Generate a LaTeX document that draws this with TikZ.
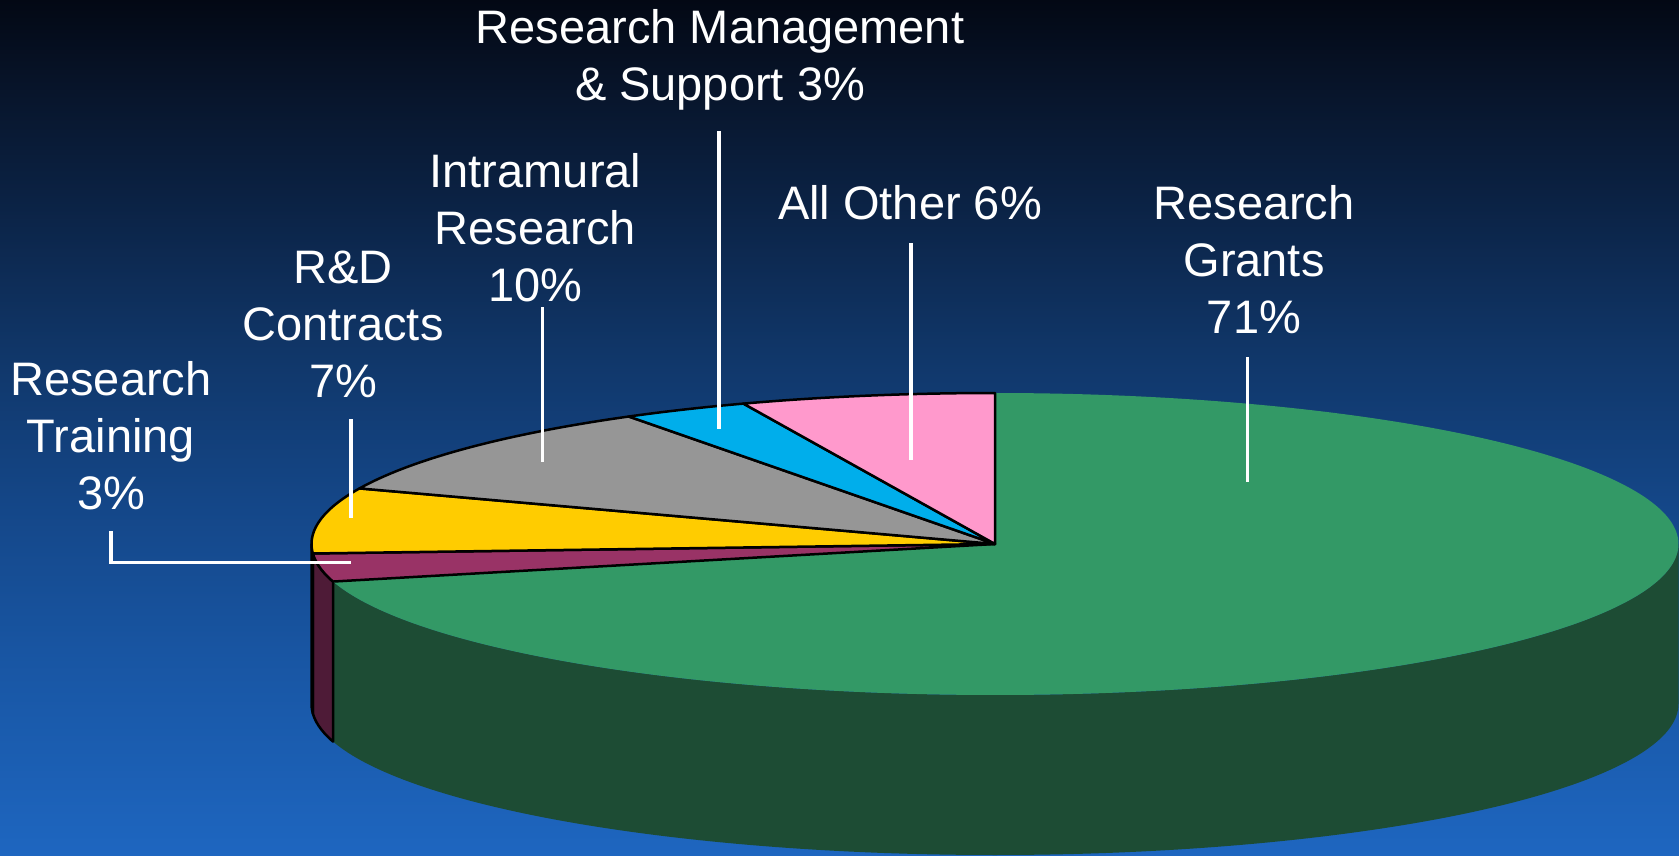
\documentclass[tikz,border=0pt]{standalone}
\usepackage{fontspec}
\setmainfont{Liberation Sans}
\definecolor{bgA}{RGB}{3,8,20}
\definecolor{bgB}{RGB}{8,22,45}
\definecolor{bgC}{RGB}{11,34,68}
\definecolor{bgD}{RGB}{16,54,104}
\definecolor{bgE}{RGB}{20,70,135}
\definecolor{bgF}{RGB}{24,85,162}
\definecolor{bgG}{RGB}{30,102,192}
\definecolor{gtop}{RGB}{51,153,102}
\definecolor{gside}{RGB}{29,76,52}
\definecolor{mtop}{RGB}{153,51,102}
\definecolor{mside}{RGB}{78,27,55}
\definecolor{ytop}{RGB}{255,204,0}
\definecolor{yside}{RGB}{128,102,0}
\definecolor{gytop}{RGB}{150,150,150}
\definecolor{btop}{RGB}{0,174,235}
\definecolor{ptop}{RGB}{255,153,204}
\pgfdeclareverticalshading{bgshade}{100bp}{color(0bp)=(bgG); color(25bp)=(bgG); color(37.03bp)=(bgF); color(45.79bp)=(bgE); color(54.56bp)=(bgD); color(63.32bp)=(bgC); color(69.16bp)=(bgB); color(75bp)=(bgA); color(100bp)=(bgA)}
\begin{document}
\begin{tikzpicture}[x=1pt,y=-1pt,
  lbl/.style={font=\fontsize{47}{57}\selectfont, text=white, align=center, inner sep=0pt, anchor=north},
  lead/.style={draw=white, line width=3.5pt},
  slice/.style={draw=black, line width=2.5pt, line join=round}]
\useasboundingbox (0,0) rectangle (1679,856);
\shade[shading=bgshade] (0,0) rectangle (1679,856);
\def\pcx{995}\def\pcy{544}\def\prx{683.5}\def\pry{151}\def\pdep{160}
\coordinate (pc) at (\pcx,\pcy);
% sides
\fill[gside] plot[domain=0:165.6,samples=150] ({\pcx+\prx*cos(\x)},{\pcy+\pry*sin(\x)}) -- plot[domain=165.6:0,samples=150] ({\pcx+\prx*cos(\x)},{\pcy+\pdep+\pry*sin(\x)}) -- cycle;
\filldraw[slice, fill=mside] plot[domain=165.6:176.4,samples=20] ({\pcx+\prx*cos(\x)},{\pcy+\pry*sin(\x)}) -- plot[domain=176.4:165.6,samples=20] ({\pcx+\prx*cos(\x)},{\pcy+\pdep+\pry*sin(\x)}) -- cycle;
\filldraw[slice, fill=yside] plot[domain=176.4:180,samples=8] ({\pcx+\prx*cos(\x)},{\pcy+\pry*sin(\x)}) -- plot[domain=180:176.4,samples=8] ({\pcx+\prx*cos(\x)},{\pcy+\pdep+\pry*sin(\x)}) -- cycle;
% tops
\fill[gtop] (pc) -- plot[domain=-90:165.6,samples=250] ({\pcx+\prx*cos(\x)},{\pcy+\pry*sin(\x)}) -- cycle;
\filldraw[slice, fill=mtop] (pc) -- plot[domain=165.6:176.4,samples=20] ({\pcx+\prx*cos(\x)},{\pcy+\pry*sin(\x)}) -- cycle;
\filldraw[slice, fill=ytop] (pc) -- plot[domain=176.4:201.6,samples=40] ({\pcx+\prx*cos(\x)},{\pcy+\pry*sin(\x)}) -- cycle;
\filldraw[slice, fill=gytop] (pc) -- plot[domain=201.6:237.6,samples=50] ({\pcx+\prx*cos(\x)},{\pcy+\pry*sin(\x)}) -- cycle;
\filldraw[slice, fill=btop] (pc) -- plot[domain=237.6:248.4,samples=20] ({\pcx+\prx*cos(\x)},{\pcy+\pry*sin(\x)}) -- cycle;
\filldraw[slice, fill=ptop] (pc) -- plot[domain=248.4:270,samples=30] ({\pcx+\prx*cos(\x)},{\pcy+\pry*sin(\x)}) -- cycle;
% labels
\node[lbl] (lmgmt) at (720,3.1) {\strut Research Management\\\& Support 3\%};
\node[lbl] (lintra) at (535.5,147) {\strut Intramural\\Research\\10\%};
\node[lbl] (lrd) at (343,243) {\strut R\&D\\Contracts\\7\%};
\node[lbl] (ltrain) at (111,355) {\strut Research\\Training\\3\%};
\node[lbl] (lother) at (910,179) {\strut All Other 6\%};
\node[lbl] (lgrants) at (1254,179) {\strut Research\\Grants\\71\%};
% leader lines
\coordinate (mT) at (719,131); \coordinate (mB) at (719,429);
\coordinate (oT) at (911,243); \coordinate (oB) at (911,460);
\coordinate (gT) at (1247.5,357); \coordinate (gB) at (1247.5,482);
\coordinate (iT) at (542.5,307); \coordinate (iB) at (542.5,462);
\coordinate (rT) at (351,419); \coordinate (rB) at (351,518);
\coordinate (tT) at (111,531); \coordinate (tC) at (111,562.5); \coordinate (tE) at (351,562.5);
\draw[lead] (mT) -- (mB);
\draw[lead] (oT) -- (oB);
\draw[lead] (gT) -- (gB);
\draw[lead] (iT) -- (iB);
\draw[lead] (rT) -- (rB);
\draw[lead] (tT) -- (tC) -- (tE);
\end{tikzpicture}
\end{document}
